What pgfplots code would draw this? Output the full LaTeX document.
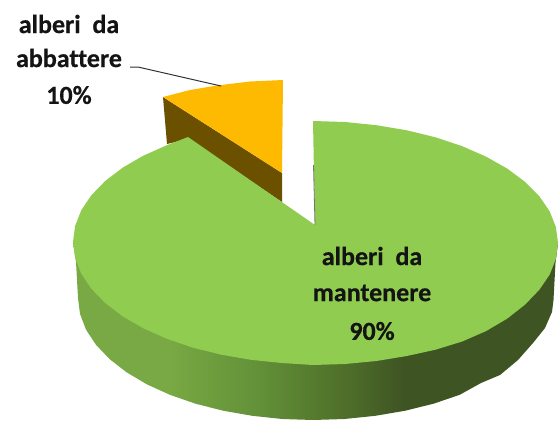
\documentclass[border=0pt]{standalone}
\usepackage{fontspec}
\setmainfont[Ligatures=NoCommon,BoldFeatures={FakeBold=0.5}]{Carlito}
\usepackage{pgfplots}
\pgfplotsset{compat=1.18}
\definecolor{topgreen}{HTML}{8FCC50}
\definecolor{orangetop}{HTML}{FDBA00}
\definecolor{brownside}{HTML}{6B5000}
\definecolor{sa}{HTML}{78A944}
\definecolor{sb}{HTML}{6F9F3E}
\definecolor{sc}{HTML}{64923A}
\definecolor{sd}{HTML}{587F30}
\definecolor{se}{HTML}{4C6C29}
\definecolor{sf}{HTML}{3F5423}
\pgfdeclarehorizontalshading{sideshade}{100bp}{color(0bp)=(sa); color(35bp)=(sa); color(38.5bp)=(sb); color(43.6bp)=(sc); color(48.7bp)=(sd); color(53.8bp)=(se); color(59bp)=(sf); color(100bp)=(sf)}
\begin{document}
\begin{tikzpicture}
\path (0,0) rectangle (560pt,421pt);
\begin{axis}[
  at={(0,0)}, anchor=south west,
  scale only axis, width=560pt, height=421pt,
  xmin=0, xmax=560, ymin=0, ymax=421, y dir=reverse,
  hide axis, clip=true,
]
% pie side
\addplot[draw=none, shade, shading=sideshade] coordinates {
 (73,242)(76,262)(78,298)(80,313.9)(86,329.6)(95.9,344.7)(109.5,359)(126.6,372.3)(146.8,384.3)(169.9,394.8)(195.5,403.7)(223.1,410.7)(252.2,415.8)(282.3,419)(313,420)
 (344.5,419)(375.4,415.8)(405.2,410.7)(433.5,403.7)(459.7,394.8)(481,383)(500,375)(518,360)(533,343)(545,328)(552,312)(553.5,300)(555.5,263)(558,243)
} -- cycle;
% exploded slice side
\addplot[draw=none, fill=brownside] coordinates {
 (163,97)(282,173)(282,202)(188,139)(167,144)
} -- cycle;
% exploded slice top
\addplot[draw=none, fill=orangetop] coordinates {
 (163,97)(190,90)(217,85.5)(250,81.5)(283,80)(282,173)
} -- cycle;
% top face
\addplot[draw=none, fill=topgreen] coordinates {
 (313,121)(345,122)(376.4,125.2)(406.8,130.3)(435.5,137.3)(462.2,146.2)(486.2,156.7)(507.4,168.7)(525.2,182)(539.4,196.3)(549.7,211.4)(555.9,227.1)(558,243)
 (555.9,258.9)(549.7,274.6)(539.4,289.7)(525.2,304.5)(507.4,318.5)(486.2,331)(462.2,341.5)(435.5,349.7)(406.8,356)(376.4,361)(345,364)(313,365)
 (281.7,363)(250.9,359.8)(221.2,354.7)(193,347.7)(166.9,338.8)(143.3,328.3)(122.6,316.3)(105.2,303)(91.3,288.7)(81.2,273.6)(75.1,257.9)(73,242)
 (75.1,226.1)(81.2,210.4)(91.3,195.3)(105.2,181)(122.6,167.7)(143.3,155.7)(166.9,145.2)(188,137)(315,225)
} -- cycle;
% thin edge at the gap
\addplot[draw=black!55, line width=0.8pt] coordinates {(313.5,165)(315,225)};
% leader line
\addplot[draw=black!80, line width=1pt] coordinates {(130,67)(138,67)(221,86)};
\node[font=\fontsize{26}{26}\selectfont\bfseries, text=black!92] at (axis cs:69,24) {alberi\ \ da};
\node[font=\fontsize{26}{26}\selectfont\bfseries, text=black!92] at (axis cs:69,58) {abbattere};
\node[font=\fontsize{26}{26}\selectfont\bfseries, text=black!92] at (axis cs:69,95) {10\%};
\node[font=\fontsize{26}{26}\selectfont\bfseries, text=black!92] at (axis cs:372,256) {alberi\ \ da};
\node[font=\fontsize{26}{26}\selectfont\bfseries, text=black!92] at (axis cs:372,293) {mantenere};
\node[font=\fontsize{26}{26}\selectfont\bfseries, text=black!92] at (axis cs:372,331) {90\%};
\end{axis}
\end{tikzpicture}
\end{document}
